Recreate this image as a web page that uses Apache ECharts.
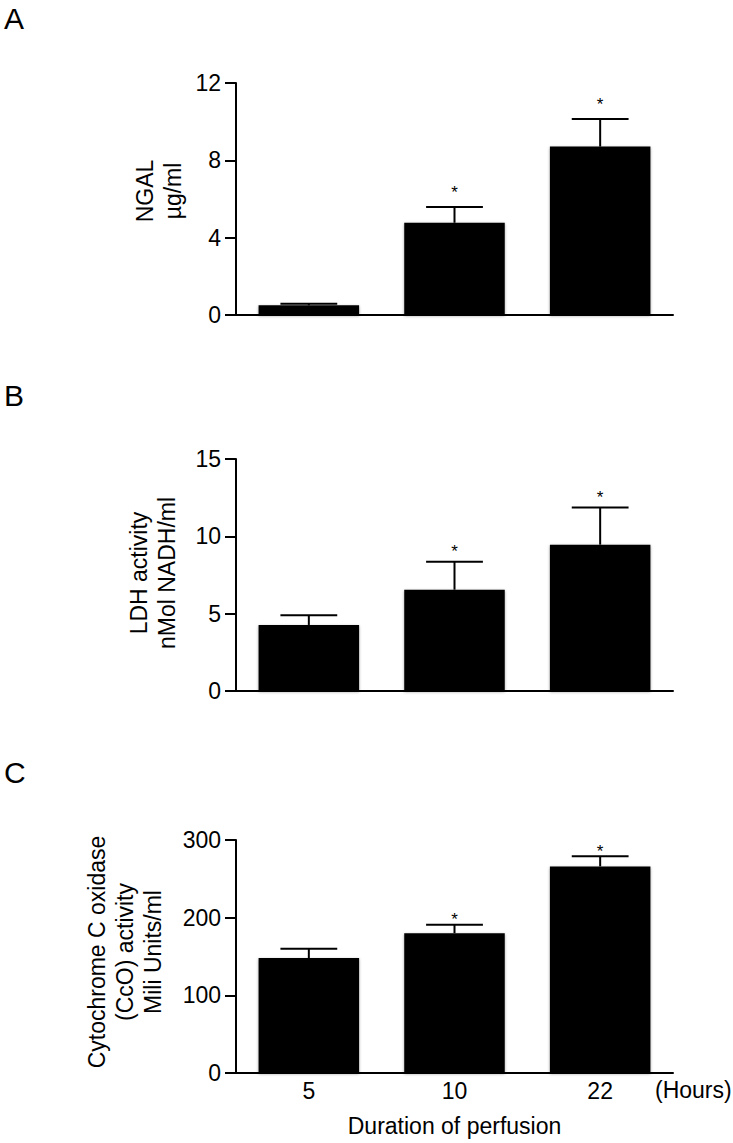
<!DOCTYPE html>
<html>
<head>
<meta charset="utf-8">
<script src="https://cdn.jsdelivr.net/npm/echarts@6/dist/echarts.min.js"></script>
<style>
html,body{margin:0;padding:0;background:#fff;}
#chart{width:733px;height:1143px;}
</style>
</head>
<body>
<div id="chart"></div>
<script>
// ---- data ----
const categories = ['5', '10', '22'];
const ngalMean = [0.5, 4.77, 8.71];
const ngalUpper = [0.58, 5.59, 10.14];
const ldhMean = [4.27, 6.55, 9.46];
const ldhUpper = [4.89, 8.36, 11.87];
const ccoMean = [148, 180, 266];
const ccoUpper = [160, 191, 279];
const significant = [false, true, true];
const ngalTicks = {min: 0, max: 12, interval: 4};
const ldhTicks = {min: 0, max: 15, interval: 5};
const ccoTicks = {min: 0, max: 300, interval: 100};

const FONT = 'Liberation Sans';
const FS = 23;
const chart = echarts.init(document.getElementById('chart'), null, {renderer: 'svg'});

const gridTops = [83, 459, 840];
const gridHeights = [232, 232, 233];
const starOffsets = [14, 10, 5];

function xAxisFor(i, showLabels) {
  return {
    type: 'category', gridIndex: i, data: categories,
    axisLine: {lineStyle: {color: '#000', width: 2}},
    axisTick: {show: false},
    axisLabel: {show: showLabels, color: '#000', fontSize: FS, fontFamily: FONT, margin: 6},
    name: showLabels ? 'Duration of perfusion' : '',
    nameLocation: 'middle', nameGap: 41,
    nameTextStyle: {color: '#000', fontSize: FS, fontFamily: FONT}
  };
}
function yAxisFor(i, t) {
  return {
    type: 'value', gridIndex: i, min: t.min, max: t.max, interval: t.interval,
    axisLine: {show: true, lineStyle: {color: '#000', width: 2}},
    axisTick: {show: true, inside: false, length: 11, lineStyle: {color: '#000', width: 2}},
    axisLabel: {color: '#000', fontSize: FS, fontFamily: FONT, margin: 15},
    splitLine: {show: false}
  };
}
function barSeries(i, vals) {
  return {
    type: 'bar', xAxisIndex: i, yAxisIndex: i, data: vals, barWidth: '69%',
    itemStyle: {color: '#000', shadowColor: 'rgba(0,0,0,0.35)', shadowBlur: 3, shadowOffsetY: 1},
    silent: true, animation: false
  };
}
function errSeries(i, vals, upper) {
  const off = starOffsets[i];
  return {
    type: 'custom', xAxisIndex: i, yAxisIndex: i, animation: false, silent: true, z: 5,
    data: vals.map((v, k) => [k, v, upper[k], significant[k] ? 1 : 0]),
    renderItem: function (params, api) {
      const x = api.value(0), v = api.value(1), u = api.value(2), s = api.value(3);
      const p0 = api.coord([x, v]);
      const p1 = api.coord([x, u]);
      const half = api.size([1, 0])[0] * 0.195;
      const st = {stroke: '#000', lineWidth: 2};
      const children = [
        {type: 'line', shape: {x1: p0[0], y1: p0[1], x2: p1[0], y2: p1[1]}, style: st},
        {type: 'line', shape: {x1: p1[0] - half, y1: p1[1], x2: p1[0] + half, y2: p1[1]}, style: st}
      ];
      if (s) {
        children.push({type: 'text', style: {text: '*', x: p1[0], y: p1[1] - off,
          align: 'center', verticalAlign: 'middle', fontSize: 17, fontFamily: FONT, fill: '#000'}});
      }
      return {type: 'group', children: children};
    }
  };
}
function label(text, x, y, size, rotate) {
  return {type: 'text', x: x, y: y, rotation: rotate ? Math.PI / 2 : 0,
    style: {text: text, align: rotate ? 'center' : 'left', verticalAlign: 'middle',
      fontSize: size, lineHeight: 28, fontFamily: FONT, fill: '#000'}};
}

chart.setOption({
  animation: false,
  backgroundColor: '#fff',
  textStyle: {fontFamily: FONT},
  grid: gridTops.map((t, i) => ({left: 236, width: 437, top: t, height: gridHeights[i]})),
  xAxis: [xAxisFor(0, false), xAxisFor(1, false), xAxisFor(2, true)],
  yAxis: [yAxisFor(0, ngalTicks), yAxisFor(1, ldhTicks), yAxisFor(2, ccoTicks)],
  series: [
    barSeries(0, ngalMean), errSeries(0, ngalMean, ngalUpper),
    barSeries(1, ldhMean), errSeries(1, ldhMean, ldhUpper),
    barSeries(2, ccoMean), errSeries(2, ccoMean, ccoUpper)
  ],
  graphic: [
    label('A', 4, 18, 30, false),
    label('B', 4, 395, 30, false),
    label('C', 4, 772, 30, false),
    label('NGAL\nµg/ml', 159, 191, FS, true),
    label('LDH activity\nnMol NADH/ml', 153, 573, FS, true),
    label('Cytochrome C oxidase\n(CcO) activity\nMili Units/ml', 125, 952, FS, true),
    label('(Hours)', 655, 1090, FS, false)
  ]
});
</script>
</body>
</html>
